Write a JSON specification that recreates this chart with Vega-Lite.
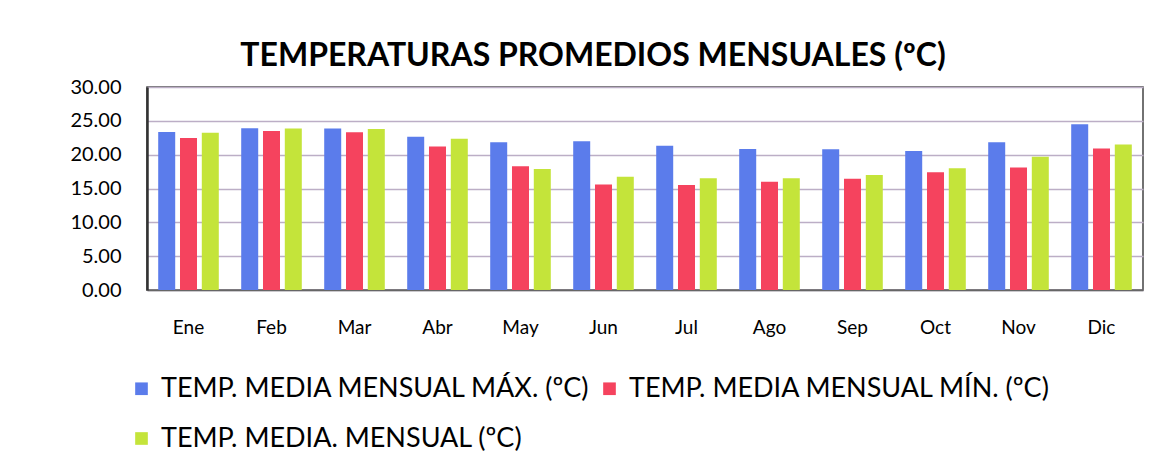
{
  "$schema": "https://vega.github.io/schema/vega-lite/v6.json",
  "width": 996,
  "height": 203,
  "autosize": "none",
  "padding": {"left": 147, "top": 87, "right": 23, "bottom": 178},
  "background": "white",
  "title": {
    "text": "TEMPERATURAS PROMEDIOS MENSUALES (ºC)",
    "font": "Lato",
    "fontSize": 32,
    "fontWeight": "bold",
    "color": "#000000",
    "anchor": "middle",
    "dx": -52,
    "offset": 4
  },
  "config": {
    "view": {"stroke": "#444444", "strokeWidth": 1.5},
    "font": "Lato"
  },
  "data": {
    "values": [
      {"mes": "Ene", "serie": "TEMP. MEDIA MENSUAL MÁX. (ºC)", "valor": 23.35},
      {"mes": "Ene", "serie": "TEMP. MEDIA MENSUAL MÍN. (ºC)", "valor": 22.45},
      {"mes": "Ene", "serie": "TEMP. MEDIA. MENSUAL (ºC)", "valor": 23.25},
      {"mes": "Feb", "serie": "TEMP. MEDIA MENSUAL MÁX. (ºC)", "valor": 23.9},
      {"mes": "Feb", "serie": "TEMP. MEDIA MENSUAL MÍN. (ºC)", "valor": 23.5},
      {"mes": "Feb", "serie": "TEMP. MEDIA. MENSUAL (ºC)", "valor": 23.85},
      {"mes": "Mar", "serie": "TEMP. MEDIA MENSUAL MÁX. (ºC)", "valor": 23.85},
      {"mes": "Mar", "serie": "TEMP. MEDIA MENSUAL MÍN. (ºC)", "valor": 23.3},
      {"mes": "Mar", "serie": "TEMP. MEDIA. MENSUAL (ºC)", "valor": 23.8},
      {"mes": "Abr", "serie": "TEMP. MEDIA MENSUAL MÁX. (ºC)", "valor": 22.65},
      {"mes": "Abr", "serie": "TEMP. MEDIA MENSUAL MÍN. (ºC)", "valor": 21.2},
      {"mes": "Abr", "serie": "TEMP. MEDIA. MENSUAL (ºC)", "valor": 22.35},
      {"mes": "May", "serie": "TEMP. MEDIA MENSUAL MÁX. (ºC)", "valor": 21.85},
      {"mes": "May", "serie": "TEMP. MEDIA MENSUAL MÍN. (ºC)", "valor": 18.3},
      {"mes": "May", "serie": "TEMP. MEDIA. MENSUAL (ºC)", "valor": 17.9},
      {"mes": "Jun", "serie": "TEMP. MEDIA MENSUAL MÁX. (ºC)", "valor": 22.0},
      {"mes": "Jun", "serie": "TEMP. MEDIA MENSUAL MÍN. (ºC)", "valor": 15.6},
      {"mes": "Jun", "serie": "TEMP. MEDIA. MENSUAL (ºC)", "valor": 16.75},
      {"mes": "Jul", "serie": "TEMP. MEDIA MENSUAL MÁX. (ºC)", "valor": 21.3},
      {"mes": "Jul", "serie": "TEMP. MEDIA MENSUAL MÍN. (ºC)", "valor": 15.5},
      {"mes": "Jul", "serie": "TEMP. MEDIA. MENSUAL (ºC)", "valor": 16.5},
      {"mes": "Ago", "serie": "TEMP. MEDIA MENSUAL MÁX. (ºC)", "valor": 20.85},
      {"mes": "Ago", "serie": "TEMP. MEDIA MENSUAL MÍN. (ºC)", "valor": 16.0},
      {"mes": "Ago", "serie": "TEMP. MEDIA. MENSUAL (ºC)", "valor": 16.5},
      {"mes": "Sep", "serie": "TEMP. MEDIA MENSUAL MÁX. (ºC)", "valor": 20.8},
      {"mes": "Sep", "serie": "TEMP. MEDIA MENSUAL MÍN. (ºC)", "valor": 16.45},
      {"mes": "Sep", "serie": "TEMP. MEDIA. MENSUAL (ºC)", "valor": 17.0},
      {"mes": "Oct", "serie": "TEMP. MEDIA MENSUAL MÁX. (ºC)", "valor": 20.55},
      {"mes": "Oct", "serie": "TEMP. MEDIA MENSUAL MÍN. (ºC)", "valor": 17.4},
      {"mes": "Oct", "serie": "TEMP. MEDIA. MENSUAL (ºC)", "valor": 18.0},
      {"mes": "Nov", "serie": "TEMP. MEDIA MENSUAL MÁX. (ºC)", "valor": 21.85},
      {"mes": "Nov", "serie": "TEMP. MEDIA MENSUAL MÍN. (ºC)", "valor": 18.1},
      {"mes": "Nov", "serie": "TEMP. MEDIA. MENSUAL (ºC)", "valor": 19.7},
      {"mes": "Dic", "serie": "TEMP. MEDIA MENSUAL MÁX. (ºC)", "valor": 24.5},
      {"mes": "Dic", "serie": "TEMP. MEDIA MENSUAL MÍN. (ºC)", "valor": 20.9},
      {"mes": "Dic", "serie": "TEMP. MEDIA. MENSUAL (ºC)", "valor": 21.5}
    ]
  },
  "mark": {"type": "bar"},
  "encoding": {
    "x": {
      "field": "mes",
      "type": "nominal",
      "sort": ["Ene", "Feb", "Mar", "Abr", "May", "Jun", "Jul", "Ago", "Sep", "Oct", "Nov", "Dic"],
      "scale": {"paddingInner": 0.27, "paddingOuter": 0.135},
      "axis": {
        "title": null,
        "labelAngle": 0,
        "labelFontSize": 19,
        "labelColor": "#000000",
        "labelPadding": 28,
        "ticks": false,
        "domainColor": "#666666",
        "domainWidth": 1.5
      }
    },
    "xOffset": {
      "field": "serie",
      "type": "nominal",
      "sort": ["TEMP. MEDIA MENSUAL MÁX. (ºC)", "TEMP. MEDIA MENSUAL MÍN. (ºC)", "TEMP. MEDIA. MENSUAL (ºC)"],
      "scale": {"paddingInner": 0.22}
    },
    "y": {
      "field": "valor",
      "type": "quantitative",
      "scale": {"domain": [0, 30], "nice": false},
      "axis": {
        "title": null,
        "values": [0, 5, 10, 15, 20, 25, 30],
        "format": ".2f",
        "labelFontSize": 20,
        "labelColor": "#000000",
        "labelPadding": 26,
        "ticks": false,
        "domainColor": "#333333",
        "domainWidth": 2.5,
        "gridColor": "#bcaec6",
        "gridWidth": 1.5
      }
    },
    "color": {
      "field": "serie",
      "type": "nominal",
      "scale": {
        "domain": ["TEMP. MEDIA MENSUAL MÁX. (ºC)", "TEMP. MEDIA MENSUAL MÍN. (ºC)", "TEMP. MEDIA. MENSUAL (ºC)"],
        "range": ["#5B7CEB", "#F5435E", "#C4E43A"]
      },
      "legend": {
        "title": null,
        "orient": "none",
        "legendX": -19,
        "legendY": 288,
        "direction": "horizontal",
        "columns": 2,
        "symbolType": "square",
        "symbolSize": 160,
        "symbolStrokeWidth": 0,
        "labelFontSize": 27,
        "labelOffset": 6,
        "labelColor": "#000000",
        "labelLimit": 700,
        "columnPadding": 5,
        "rowPadding": 22
      }
    }
  }
}
